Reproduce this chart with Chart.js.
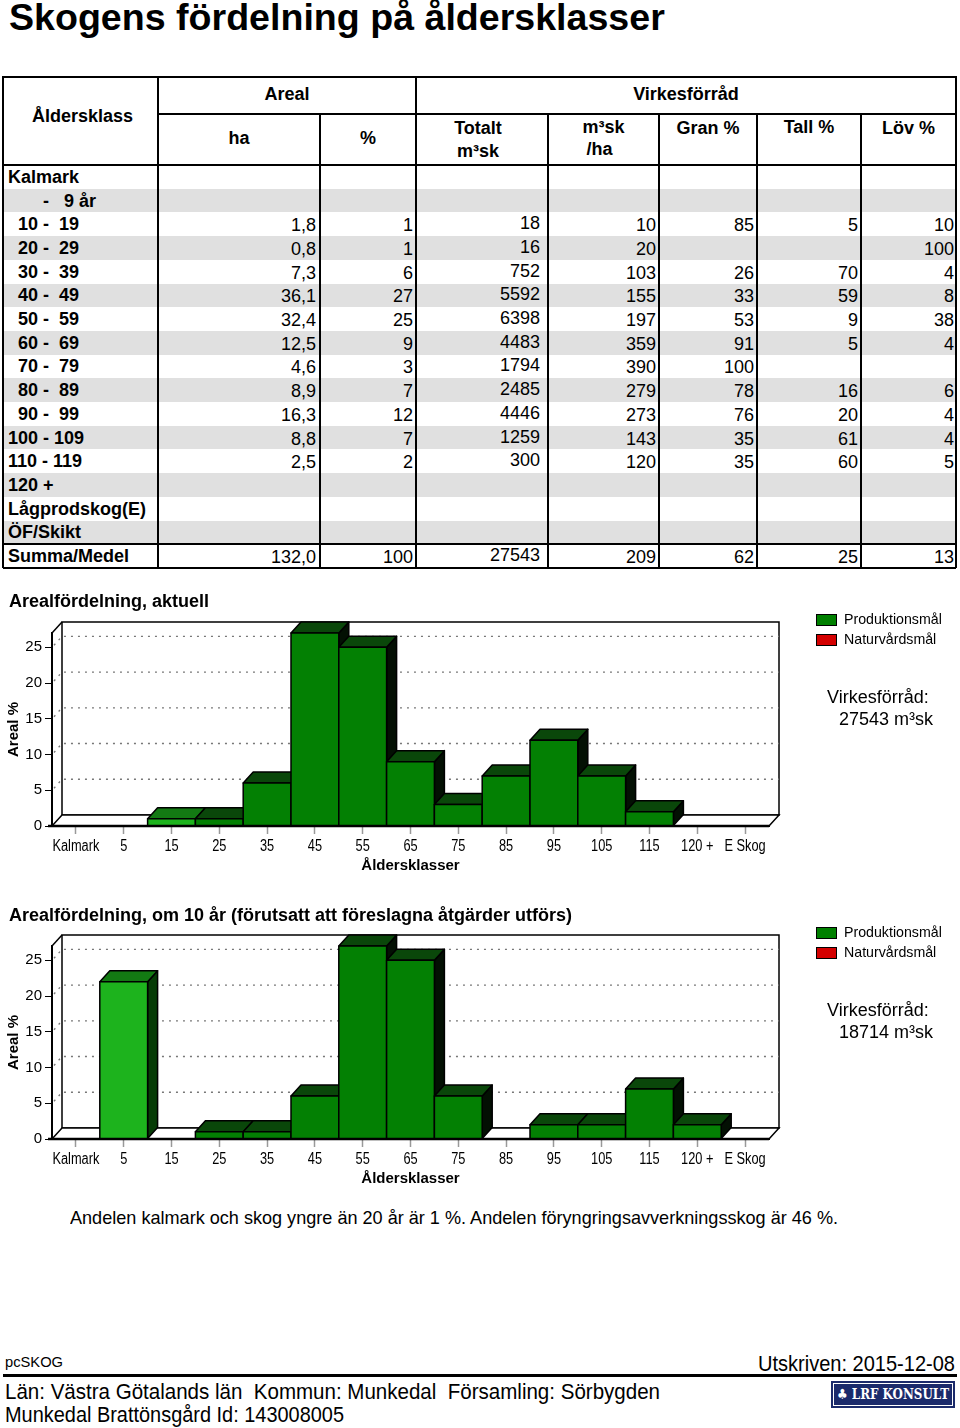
<!DOCTYPE html>
<html>
<head>
<meta charset="utf-8">
<script src="https://cdn.jsdelivr.net/npm/chart.js"></script>
<style>
  body { margin: 0; width: 960px; height: 1428px; position: relative; overflow: hidden; background: #fff; color: #000;
         font-family: "Liberation Sans", Arial, sans-serif; }
  .abs { position: absolute; white-space: pre; }
  .ln { position: absolute; background: #000; }
  .stripe { position: absolute; background: #e0e0e0; }
  canvas { position: absolute; left: 0; }
</style>
</head>
<body>
<canvas id="chartNow" width="960" height="295" style="top:590px"></canvas>
<canvas id="chartIn10" width="960" height="295" style="top:903px"></canvas>

<script>
// --- table data ---
const ageClasses = ['Kalmark', '       -   9 år', '  10 -  19', '  20 -  29', '  30 -  39', '  40 -  49', '  50 -  59',
  '  60 -  69', '  70 -  79', '  80 -  89', '  90 -  99', '100 - 109', '110 - 119', '120 +', 'Lågprodskog(E)', 'ÖF/Skikt', 'Summa/Medel'];
const areaHa   = [null, null, 1.8, 0.8, 7.3, 36.1, 32.4, 12.5, 4.6, 8.9, 16.3, 8.8, 2.5, null, null, null, 132.0];
const areaPct  = [null, null, 1, 1, 6, 27, 25, 9, 3, 7, 12, 7, 2, null, null, null, 100];
const volTotal = [null, null, 18, 16, 752, 5592, 6398, 4483, 1794, 2485, 4446, 1259, 300, null, null, null, 27543];
const volPerHa = [null, null, 10, 20, 103, 155, 197, 359, 390, 279, 273, 143, 120, null, null, null, 209];
const granPct  = [null, null, 85, null, 26, 33, 53, 91, 100, 78, 76, 35, 35, null, null, null, 62];
const tallPct  = [null, null, 5, null, 70, 59, 9, 5, null, 16, 20, 61, 60, null, null, null, 25];
const lovPct   = [null, null, 10, 100, 4, 8, 38, 4, null, 6, 4, 4, 5, null, null, null, 13];

// --- chart data ---
const ageTicks = ['Kalmark', '5', '15', '25', '35', '45', '55', '65', '75', '85', '95', '105', '115', '120 +', 'E Skog'];
const prodNow  = [0, 0, 1, 1, 6, 27, 25, 9, 3, 7, 12, 7, 2, 0, 0];
const natNow   = [0, 0, 0, 0, 0, 0, 0, 0, 0, 0, 0, 0, 0, 0, 0];
const prodIn10 = [0, 22, 0, 1, 1, 6, 27, 25, 6, 0, 2, 2, 7, 2, 0];
const natIn10  = [0, 0, 0, 0, 0, 0, 0, 0, 0, 0, 0, 0, 0, 0, 0];
const yTicks   = [0, 5, 10, 15, 20, 25];
const youngIdx = [1, 2];
const volumeNow = 27543;
const volumeIn10 = 18714;

const SANS = '"Liberation Sans", Arial, sans-serif';

function put(text, left, cy, width, align, font) {
  const d = document.createElement('div');
  d.className = 'abs';
  d.textContent = text;
  d.style.font = font;
  d.style.left = left + 'px';
  if (width) d.style.width = width + 'px';
  d.style.top = (cy - 15) + 'px';
  d.style.height = '30px';
  d.style.lineHeight = '30px';
  d.style.textAlign = align;
  document.body.appendChild(d);
  return d;
}
function box(cls, x, y, w, h) {
  const d = document.createElement('div');
  d.className = cls;
  d.style.left = x + 'px'; d.style.top = y + 'px';
  d.style.width = w + 'px'; d.style.height = h + 'px';
  document.body.appendChild(d);
  return d;
}
function fit(el, w) {
  el.style.display = 'inline-block';
  el.style.width = 'auto';
  const cur = el.getBoundingClientRect().width;
  el.style.transformOrigin = 'left center';
  el.style.transform = 'scaleX(' + (w / cur) + ')';
}

// --- page title ---
const h = document.createElement('div');
h.className = 'abs';
h.textContent = 'Skogens fördelning på åldersklasser';
h.style.cssText += 'left:9px;top:-1px;font:bold 37.6px ' + SANS + ';line-height:1;';
document.body.appendChild(h);

// --- table ---
const colX = [3, 158, 320, 416, 548, 659, 757, 861, 956];
const rowTop = 165, rowH = 23.7;
ageClasses.forEach((_, i) => {
  if (i % 2 === 1 && i < ageClasses.length - 1) box('stripe', colX[0], rowTop + i * rowH, colX[8] - colX[0], rowH);
});
const tb = rowTop + ageClasses.length * rowH;
box('ln', 3, 76, 953, 2);
box('ln', 158, 113, 798, 2);
box('ln', 3, 164, 953, 2);
box('ln', 3, rowTop + 16 * rowH - 1, 953, 2);
box('ln', 3, tb - 1, 953, 2);
colX.forEach((x, c) => {
  const top = (c === 0 || c === 1 || c === 3 || c === 8) ? 76 : 113;
  box('ln', x - 1, top, 2, tb - top);
});

const HB = 'bold 18px ' + SANS;
put('Åldersklass', colX[0] + 2, 116, colX[1] - colX[0], 'center', HB);
put('Areal', colX[1], 94, colX[3] - colX[1], 'center', HB);
put('Virkesförråd', colX[3], 94, colX[8] - colX[3], 'center', HB);
put('ha', colX[1], 138, colX[2] - colX[1], 'center', HB);
put('%', colX[2], 138, colX[3] - colX[2], 'center', HB);
put('Totalt', colX[3] - 4, 128, colX[4] - colX[3], 'center', HB);
put('m³sk', colX[3] - 4, 151, colX[4] - colX[3], 'center', HB);
put('m³sk', colX[4], 127, colX[5] - colX[4], 'center', HB);
put('/ha', colX[4] - 4, 149, colX[5] - colX[4], 'center', HB);
put('Gran %', colX[5], 128, colX[6] - colX[5], 'center', HB);
put('Tall %', colX[6], 127, colX[7] - colX[6], 'center', HB);
put('Löv %', colX[7], 128, colX[8] - colX[7], 'center', HB);

const fmt1 = v => v.toFixed(1).replace('.', ',');
const numCols = [
  { data: areaHa, c: 1, pad: 4, f: fmt1 },
  { data: areaPct, c: 2, pad: 3 },
  { data: volTotal, c: 3, pad: 8, dy: -2 },
  { data: volPerHa, c: 4, pad: 3 },
  { data: granPct, c: 5, pad: 3 },
  { data: tallPct, c: 6, pad: 3 },
  { data: lovPct, c: 7, pad: 2 }
];
ageClasses.forEach((label, i) => {
  const cy = rowTop + i * rowH + rowH / 2;
  put(label, colX[0] + 5, cy, null, 'left', HB);
  numCols.forEach(col => {
    const v = col.data[i];
    if (v === null) return;
    put(col.f ? col.f(v) : String(v), colX[col.c], cy + 1 + (col.dy || 0), colX[col.c + 1] - colX[col.c] - col.pad, 'right', '18px ' + SANS);
  });
});

// --- chart titles ---
put('Arealfördelning, aktuell', 9, 601, null, 'left', 'bold 18px ' + SANS);
put('Arealfördelning, om 10 år (förutsatt att föreslagna åtgärder utförs)', 9, 915, null, 'left', 'bold 18px ' + SANS);

// --- 3D drawing ---
const DX = 10, DY = -11;
const box3d = {
  id: 'box3d',
  beforeDatasetsDraw(chart) {
    const { ctx, chartArea: a } = chart;
    const y = chart.scales.y;
    ctx.save();
    ctx.strokeStyle = '#000';
    ctx.lineWidth = 1.5;
    ctx.strokeRect(a.left + DX, a.top + DY, a.right - a.left, a.bottom - a.top);
    ctx.beginPath();
    ctx.moveTo(a.left, a.top);
    ctx.lineTo(a.left + DX, a.top + DY);
    ctx.stroke();
    ctx.save();
    ctx.setLineDash([2, 5]);
    ctx.strokeStyle = '#777';
    ctx.lineWidth = 1.3;
    y.ticks.forEach(t => {
      if (t.value === 0) return;
      const py = y.getPixelForValue(t.value);
      ctx.beginPath();
      ctx.moveTo(a.left + 2, py - 2);
      ctx.lineTo(a.left + DX, py + DY);
      ctx.lineTo(a.right + DX, py + DY);
      ctx.stroke();
    });
    ctx.restore();
    ctx.fillStyle = '#fff';
    ctx.beginPath();
    ctx.moveTo(a.left, a.bottom);
    ctx.lineTo(a.left + DX, a.bottom + DY);
    ctx.lineTo(a.right + DX, a.bottom + DY);
    ctx.lineTo(a.right, a.bottom);
    ctx.closePath();
    ctx.fill();
    ctx.stroke();
    ctx.lineWidth = 2.5;
    ctx.beginPath();
    ctx.moveTo(a.left - 4, a.bottom);
    ctx.lineTo(a.right, a.bottom);
    ctx.stroke();
    ctx.restore();
  },
  beforeDatasetDraw() {
    return false;
  },
  afterDatasetsDraw(chart) {
    const { ctx } = chart;
    ctx.save();
    ctx.strokeStyle = '#000';
    ctx.lineWidth = 1.5;
    ctx.lineJoin = 'round';
    const poly = (pts, fill) => {
      ctx.beginPath();
      ctx.moveTo(pts[0][0], pts[0][1]);
      pts.slice(1).forEach(p => ctx.lineTo(p[0], p[1]));
      ctx.closePath();
      ctx.fillStyle = fill;
      ctx.fill();
      ctx.stroke();
    };
    chart.data.labels.forEach((_, i) => {
      chart.data.datasets.forEach((ds, d) => {
        if (!ds.data[i]) return;
        const el = chart.getDatasetMeta(d).data[i];
        const { x, y, base, width } = el.getProps(['x', 'y', 'base', 'width'], true);
        const l = x - width / 2, r = x + width / 2;
        const pick = c => Array.isArray(c) ? c[i] : c;
        poly([[r, y], [r + DX, y + DY], [r + DX, base + DY], [r, base]], pick(ds.sideColor));
        poly([[l, y], [l + DX, y + DY], [r + DX, y + DY], [r, y]], pick(ds.topColor));
        poly([[l, y], [r, y], [r, base], [l, base]], pick(ds.backgroundColor));
      });
    });
    ctx.restore();
  },
  afterDraw(chart) {
    // narrow category labels under the floor
    const { ctx, chartArea: a } = chart;
    const xs = chart.scales.x;
    ctx.save();
    ctx.fillStyle = '#000';
    ctx.font = '16px ' + SANS;
    ctx.textAlign = 'center';
    ctx.textBaseline = 'middle';
    xs.ticks.forEach((t, i) => {
      ctx.save();
      ctx.translate(xs.getPixelForTick(i), a.bottom + 21);
      ctx.scale(0.8, 1);
      ctx.fillText(xs.getLabelForValue(t.value), 0, 0);
      ctx.restore();
    });
    ctx.restore();
  }
};

const sideLegend = {
  id: 'sideLegend',
  afterDraw(chart, args, opts) {
    const { ctx } = chart;
    ctx.save();
    ctx.textBaseline = 'middle';
    chart.data.datasets.forEach((ds, i) => {
      const y = opts.y + i * 20;
      ctx.fillStyle = ds.legendColor;
      ctx.fillRect(opts.x, y, 20, 11);
      ctx.strokeStyle = '#000';
      ctx.lineWidth = 1;
      ctx.strokeRect(opts.x + 0.5, y + 0.5, 20, 11);
      ctx.fillStyle = '#000';
      ctx.font = '14.2px ' + SANS;
      ctx.fillText(ds.label, opts.x + 28, y + 6.5);
    });
    ctx.font = '18px ' + SANS;
    ctx.fillText('Virkesförråd:', 827, 108);
    ctx.fillText(opts.volume + ' m³sk', 839, 130);
    ctx.restore();
  }
};

function makeChart(id, prod, nat, volume) {
  return new Chart(document.getElementById(id), {
    type: 'bar',
    data: {
      labels: ageTicks,
      datasets: [
        {
          label: 'Produktionsmål', data: prod,
          backgroundColor: prod.map((v, i) => youngIdx.includes(i) ? '#1db31d' : '#038003'),
          topColor: prod.map((v, i) => youngIdx.includes(i) ? '#137a13' : '#0a470a'),
          sideColor: prod.map((v, i) => youngIdx.includes(i) ? '#063c06' : '#031003'),
          legendColor: '#008000'
        },
        {
          label: 'Naturvårdsmål', data: nat,
          backgroundColor: '#d40000', topColor: '#7a0000', sideColor: '#300000',
          legendColor: '#d40000'
        }
      ]
    },
    options: {
      responsive: false,
      animation: false,
      layout: { padding: { top: 43, right: 191, left: 0, bottom: 0 } },
      datasets: { bar: { barPercentage: 1, categoryPercentage: 1 } },
      plugins: {
        legend: { display: false },
        tooltip: { enabled: false },
        sideLegend: { x: 816, y: 24, volume: volume }
      },
      scales: {
        x: {
          stacked: true,
          afterFit: s => { s.height = 59; },
          grid: { display: true, drawOnChartArea: false, offset: false, tickLength: 8, tickColor: '#999', tickWidth: 1.5 },
          border: { display: true, color: '#000', width: 2 },
          ticks: { display: false, autoSkip: false, maxRotation: 0 },
          title: { display: true, text: 'Åldersklasser', color: '#000', font: { family: SANS, size: 15, weight: 'bold' }, padding: { top: 0, bottom: 10 } }
        },
        y: {
          stacked: true, min: 0, max: 27,
          afterFit: s => { s.width = 52; },
          afterBuildTicks: s => { s.ticks = yTicks.map(v => ({ value: v })); },
          grid: { drawOnChartArea: false, tickLength: 7, tickColor: '#000' },
          border: { display: true, color: '#000', width: 2 },
          ticks: { padding: 3, color: '#000', font: { family: SANS, size: 15 } },
          title: { display: true, text: 'Areal %', color: '#000', font: { family: SANS, size: 15, weight: 'bold' }, padding: { top: 5, bottom: 0 } }
        }
      }
    },
    plugins: [box3d, sideLegend]
  });
}

makeChart('chartNow', prodNow, natNow, volumeNow);
makeChart('chartIn10', prodIn10, natIn10, volumeIn10);

// --- notes and footer ---
fit(put('Andelen kalmark och skog yngre än 20 år är 1 %. Andelen föryngringsavverkningsskog är 46 %.', 70, 1218, null, 'left', '19px ' + SANS), 768);
fit(put('pcSKOG', 5, 1362, null, 'left', '15px ' + SANS), 58);
fit(put('Utskriven: 2015-12-08', 758, 1364, null, 'left', '22px ' + SANS), 197);
box('ln', 3, 1374, 954, 3);
fit(put('Län: Västra Götalands län  Kommun: Munkedal  Församling: Sörbygden', 5, 1392, null, 'left', '22px ' + SANS), 655);
fit(put('Munkedal Brattönsgård Id: 143008005', 5, 1415, null, 'left', '22px ' + SANS), 339);

const logo = box('abs', 831, 1381, 124, 27);
logo.style.background = '#1b2a6b';
const inner = document.createElement('div');
inner.style.cssText = 'position:absolute;left:2px;top:2px;right:2px;bottom:2px;border:1px solid #fff;';
logo.appendChild(inner);
const lt = document.createElement('div');
lt.textContent = '\u2663 LRF KONSULT';
lt.style.cssText = 'position:absolute;left:6px;top:5px;color:#fff;font:bold 14px "DejaVu Serif",serif;line-height:17px;white-space:pre;display:inline-block;';
logo.appendChild(lt);
const lw = lt.getBoundingClientRect().width;
lt.style.transformOrigin = 'left center';
lt.style.transform = 'scaleX(' + (112 / lw) + ')';
</script>
</body>
</html>
